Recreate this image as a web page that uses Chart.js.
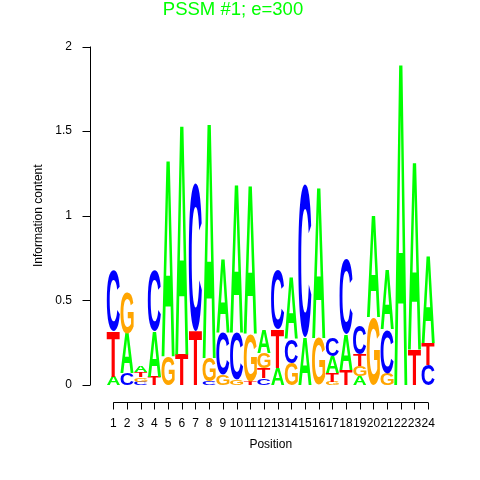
<!DOCTYPE html>
<html>
<head>
<meta charset="utf-8">
<script src="https://cdn.jsdelivr.net/npm/chart.js@4"></script>
<style>
  html, body { margin: 0; padding: 0; background: #fff; }
</style>
</head>
<body>
<canvas id="logoChart" width="480" height="480"></canvas>
<script>
// positions along the motif
const positions = ["1", "2", "3", "4", "5", "6", "7", "8", "9", "10", "11", "12",
  "13", "14", "15", "16", "17", "18", "19", "20", "21", "22", "23", "24"];

// letter heights (bits) per position
const bitsA = [0.05, 0.235, 0.035, 0.27, 1.17, 1.37, 0, 1.40, 0.44, 0.88, 0.88, 0.14,
  0.10, 0.37, 0.28, 0.90, 0.10, 0.21, 0.05, 0.61, 0.35, 1.92, 1.12, 0.52];
const bitsC = [0.36, 0.07, 0.02, 0.36, 0, 0, 0.87, 0.02, 0.25, 0.28, 0, 0.04,
  0.35, 0.14, 0.90, 0, 0.11, 0.44, 0.17, 0, 0.26, 0, 0, 0.12];
const bitsG = [0, 0.24, 0.025, 0, 0.17, 0, 0, 0.14, 0.06, 0.03, 0.28, 0.09,
  0, 0.13, 0, 0.28, 0.02, 0, 0.06, 0.40, 0.07, 0, 0, 0];
const bitsT = [0.27, 0, 0.03, 0.05, 0, 0.18, 0.32, 0, 0, 0, 0.02, 0.06,
  0.23, 0, 0, 0, 0.05, 0.09, 0.07, 0, 0, 0, 0.21, 0.13];

const yTicks = [0, 0.5, 1, 1.5, 2];

const baseColors = { A: "#00ff00", C: "#0000ff", G: "#ffa500", T: "#ff0000" };

Chart.defaults.font.family = "'Liberation Sans', Arial, sans-serif";
Chart.defaults.font.size = 12;
Chart.defaults.color = "#000";

// stack letters smallest at the bottom, tallest on top
const bases = ["A", "C", "G", "T"];
const perBase = { A: bitsA, C: bitsC, G: bitsG, T: bitsT };
const rankLetters = [[], [], [], []];
const rankValues = [[], [], [], []];
positions.forEach((p, i) => {
  const col = bases
    .map(b => ({ b, v: perBase[b][i] }))
    .sort((a, b) => a.v - b.v);
  col.forEach((e, r) => {
    rankLetters[r].push(e.b);
    rankValues[r].push(e.v);
  });
});

const datasets = rankValues.map((vals, r) => ({
  label: "rank " + r,
  data: vals,
  letters: rankLetters[r],
  backgroundColor: "rgba(0,0,0,0)",
  borderWidth: 0,
  barPercentage: 0.96,
  categoryPercentage: 1
}));

// draw each stacked bar as a stretched letter
const letterPlugin = {
  id: "letters",
  afterDatasetsDraw(chart) {
    const ctx = chart.ctx;
    ctx.save();
    ctx.font = "bold 100px 'Liberation Sans', Arial, sans-serif";
    ctx.textAlign = "left";
    ctx.textBaseline = "alphabetic";
    chart.data.datasets.forEach((ds, di) => {
      chart.getDatasetMeta(di).data.forEach((bar, i) => {
        const h = bar.base - bar.y;
        if (h < 0.4) return;
        const ch = ds.letters[i];
        const m = ctx.measureText(ch);
        const gw = m.actualBoundingBoxLeft + m.actualBoundingBoxRight;
        const gh = m.actualBoundingBoxAscent + m.actualBoundingBoxDescent;
        ctx.save();
        ctx.translate(bar.x - bar.width / 2, bar.y);
        ctx.scale(bar.width / gw, h / gh);
        ctx.fillStyle = baseColors[ch];
        ctx.fillText(ch, m.actualBoundingBoxLeft, m.actualBoundingBoxAscent);
        ctx.restore();
      });
    });
    ctx.restore();
  }
};

// R style detached axes
const axisPlugin = {
  id: "rAxes",
  afterDraw(chart) {
    const { ctx, chartArea, scales } = chart;
    const xs = scales.x, ys = scales.y;
    ctx.save();
    ctx.strokeStyle = "#000";
    ctx.lineWidth = 1;
    ctx.beginPath();
    const ax = Math.round(chartArea.left - 17) + 0.5;
    ctx.moveTo(ax, ys.getPixelForValue(yTicks[0]));
    ctx.lineTo(ax, ys.getPixelForValue(yTicks[yTicks.length - 1]));
    yTicks.forEach(v => {
      const py = Math.round(ys.getPixelForValue(v)) + 0.5;
      ctx.moveTo(ax, py);
      ctx.lineTo(ax - 8, py);
    });
    const ay = Math.round(chartArea.bottom + 17) + 0.5;
    ctx.moveTo(xs.getPixelForValue(0), ay);
    ctx.lineTo(xs.getPixelForValue(positions.length - 1), ay);
    positions.forEach((p, i) => {
      const px = Math.round(xs.getPixelForValue(i)) + 0.5;
      ctx.moveTo(px, ay);
      ctx.lineTo(px, ay + 7);
    });
    ctx.stroke();
    ctx.restore();
  }
};

new Chart(document.getElementById("logoChart"), {
  type: "bar",
  data: { labels: positions, datasets },
  plugins: [letterPlugin, axisPlugin],
  options: {
    responsive: false,
    animation: false,
    layout: { padding: { left: 31, right: 45, top: 0, bottom: 27.7 } },
    plugins: {
      legend: { display: false },
      tooltip: { enabled: false },
      title: {
        display: true,
        text: "PSSM #1; e=300",
        color: "#00ff00",
        font: { size: 18.5, weight: "normal", lineHeight: 1 },
        padding: { top: 0.5, bottom: 27.5 }
      }
    },
    scales: {
      x: {
        stacked: true,
        afterFit(scale) { scale.height = 67.3; },
        grid: { display: false, drawTicks: false },
        border: { display: false },
        ticks: { autoSkip: false, maxRotation: 0, minRotation: 0, padding: 31.5, font: { size: 12 } },
        title: { display: true, text: "Position", padding: { top: 7, bottom: 0 }, font: { size: 12 } }
      },
      y: {
        stacked: true,
        min: 0,
        max: 2,
        afterBuildTicks(scale) { scale.ticks = yTicks.map(v => ({ value: v })); },
        afterFit(scale) { scale.width = 75.5; },
        grid: { display: false, drawTicks: false },
        border: { display: false },
        ticks: { padding: 34.5, font: { size: 12 }, callback: v => String(v) },
        title: { display: true, text: "Information content", padding: { top: 0, bottom: 0 }, font: { size: 12 } }
      }
    }
  }
});
</script>
</body>
</html>
